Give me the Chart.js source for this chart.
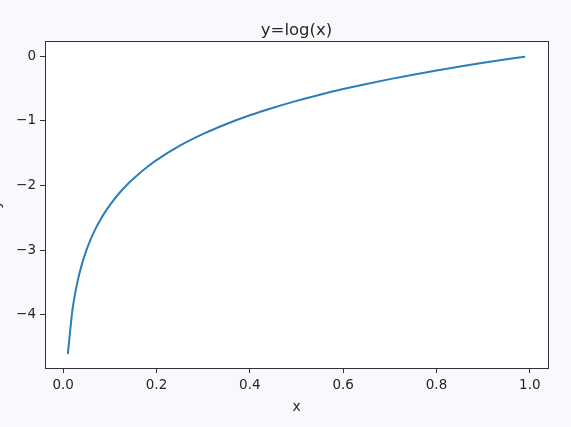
<!DOCTYPE html>
<html>
<head>
<meta charset="utf-8">
<script src="https://cdn.jsdelivr.net/npm/chart.js@4.4.1/dist/chart.umd.min.js"></script>
<style>
  html, body { margin: 0; padding: 0; background: #f8f9fd; }
  canvas { display: block; }
</style>
</head>
<body>
<canvas id="c" width="571" height="427"></canvas>
<script>
// Values
const xValues = [0.01, 0.02, 0.03, 0.04, 0.05, 0.06, 0.07, 0.08, 0.09, 0.10,
                 0.12, 0.14, 0.16, 0.18, 0.20, 0.25, 0.30, 0.35, 0.40, 0.45,
                 0.50, 0.55, 0.60, 0.65, 0.70, 0.75, 0.80, 0.85, 0.90, 0.95, 0.99];
const yValues = [-4.605, -3.912, -3.507, -3.219, -2.996, -2.813, -2.659, -2.526, -2.408, -2.303,
                 -2.120, -1.966, -1.833, -1.715, -1.609, -1.386, -1.204, -1.050, -0.916, -0.799,
                 -0.693, -0.598, -0.511, -0.431, -0.357, -0.288, -0.223, -0.163, -0.105, -0.051, -0.010];
const xTicks = [0.0, 0.2, 0.4, 0.6, 0.8, 1.0];
const yTicks = [-4, -3, -2, -1, 0];
const titleText = 'y=log(x)';
const xLabel = 'x';
const yLabel = 'y';

const points = xValues.map((x, i) => ({ x: x, y: yValues[i] }));
const FONT = '"DejaVu Sans", sans-serif';
const INK = '#262626';
const SPINE = '#333333';

const framePlugin = {
  id: 'frame',
  beforeDraw(chart) {
    const { ctx, chartArea: a } = chart;
    ctx.save();
    ctx.fillStyle = '#ffffff';
    ctx.fillRect(a.left, a.top, a.right - a.left, a.bottom - a.top);
    ctx.restore();
  },
  afterDraw(chart) {
    const { ctx, chartArea: a } = chart;
    ctx.save();
    ctx.strokeStyle = SPINE;
    ctx.lineWidth = 1;
    ctx.strokeRect(Math.round(a.left) + 0.5, Math.round(a.top) + 0.5,
                   Math.round(a.right - a.left), Math.round(a.bottom - a.top));
    ctx.fillStyle = INK;
    ctx.textAlign = 'center';
    ctx.textBaseline = 'alphabetic';
    ctx.font = '16.5px ' + FONT;
    ctx.fillText(titleText, (a.left + a.right) / 2, 35);
    ctx.font = '13.8px ' + FONT;
    ctx.fillText(xLabel, (a.left + a.right) / 2, 411);
    ctx.translate(0, (a.top + a.bottom) / 2);
    ctx.rotate(-Math.PI / 2);
    ctx.fillText(yLabel, 0, 0);
    ctx.restore();
  }
};

const fmt = v => {
  const s = Math.abs(v) < 1e-9 ? '0' : String(Math.abs(v));
  return v < -1e-9 ? '\u2212' + s : s;
};

new Chart(document.getElementById('c'), {
  type: 'line',
  data: {
    datasets: [{
      data: points,
      borderColor: '#2a7fba',
      borderWidth: 2,
      pointRadius: 0,
      fill: false,
      cubicInterpolationMode: 'monotone'
    }]
  },
  options: {
    responsive: false,
    animation: false,
    devicePixelRatio: 1,
    layout: { padding: { top: 41, right: 23, left: 0, bottom: 0 } },
    plugins: { legend: { display: false }, title: { display: false }, tooltip: { enabled: false } },
    scales: {
      x: {
        type: 'linear',
        min: -0.039,
        max: 1.039,
        afterFit(s) { s.height = 59; },
        afterBuildTicks(s) { s.ticks = xTicks.map(v => ({ value: v })); },
        grid: { display: true, drawOnChartArea: false, drawTicks: true, tickLength: 5, color: SPINE },
        border: { display: true, color: SPINE },
        ticks: {
          font: { family: FONT, size: 13.5 },
          color: INK,
          padding: 4,
          maxRotation: 0,
          callback: v => v.toFixed(1)
        }
      },
      y: {
        type: 'linear',
        min: -4.82,
        max: 0.232,
        afterFit(s) { s.width = 45; },
        afterBuildTicks(s) { s.ticks = yTicks.map(v => ({ value: v })); },
        grid: { display: true, drawOnChartArea: false, drawTicks: true, tickLength: 5, color: SPINE },
        border: { display: true, color: SPINE },
        ticks: {
          font: { family: FONT, size: 13.5 },
          color: INK,
          padding: 4,
          callback: v => fmt(v)
        }
      }
    }
  },
  plugins: [framePlugin]
});
</script>
</body>
</html>
